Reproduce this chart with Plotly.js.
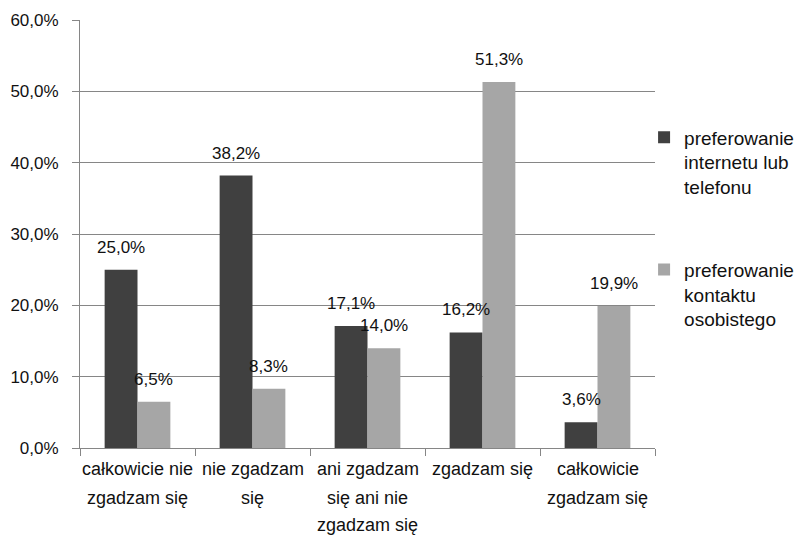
<!DOCTYPE html>
<html>
<head>
<meta charset="utf-8">
<script src="https://cdn.plot.ly/plotly-3.0.1.min.js"></script>
<style>html,body{margin:0;padding:0;background:#fff;}#chart{width:798px;height:535px;}</style>
</head>
<body>
<div id="chart"></div>
<script>
const categories = ["cat1", "cat2", "cat3", "cat4", "cat5"];
const categoryLines = [
  ["całkowicie nie", "zgadzam się"],
  ["nie zgadzam", "się"],
  ["ani zgadzam", "się ani nie", "zgadzam się"],
  ["zgadzam się"],
  ["całkowicie", "zgadzam się"]
];
const seriesNames = ["preferowanie<br>internetu lub<br>telefonu", "preferowanie<br>kontaktu<br>osobistego"];
const seriesInternet = [25.0, 38.2, 17.1, 16.2, 3.6];
const seriesPersonal = [6.5, 8.3, 14.0, 51.3, 19.9];
const yTickVals = [0, 10, 20, 30, 40, 50, 60];

const FONT = "Liberation Sans, Arial, sans-serif";
const fmt = v => v.toFixed(1).replace('.', ',') + '%';

const traces = [
  {type: 'bar', x: categories, y: seriesInternet, name: seriesNames[0], legendgroup: 'a',
   marker: {color: '#404040'}, hoverinfo: 'skip'},
  {type: 'bar', x: categories, y: seriesPersonal, name: seriesNames[1], legendgroup: 'b',
   marker: {color: '#a6a6a6'}, hoverinfo: 'skip'}
];

const gap = 1.5 / 3.5;
const off = (1 - gap) / 4;
const annotations = [];
[seriesInternet, seriesPersonal].forEach((s, si) => {
  s.forEach((v, i) => {
    annotations.push({xref: 'x', yref: 'y', x: i + (si === 0 ? -off : off), y: v,
      text: fmt(v), showarrow: false, yanchor: 'bottom', yshift: 11,
      font: {family: FONT, size: 17, color: '#111'}});
  });
});
const lineShifts = [-21, -50, -77];
categoryLines.forEach((lines, i) => {
  lines.forEach((t, li) => {
    annotations.push({xref: 'x', yref: 'paper', x: i, y: 0, text: t, showarrow: false,
      yanchor: 'middle', yshift: lineShifts[li],
      font: {family: FONT, size: 18, color: '#111'}});
  });
});

const layout = {
  width: 798, height: 535,
  margin: {l: 80, r: 143, t: 20, b: 87, autoexpand: false},
  paper_bgcolor: '#fff', plot_bgcolor: '#fff',
  separators: ', ',
  barmode: 'group', bargap: gap, bargroupgap: 0,
  font: {family: FONT, size: 17, color: '#111'},
  showlegend: true,
  legend: {x: 0.981, xanchor: 'left', y: 0.77, yanchor: 'top', valign: 'top',
    font: {family: FONT, size: 19, color: '#111'}, tracegroupgap: 55, traceorder: 'grouped',
    bgcolor: 'rgba(0,0,0,0)'},
  xaxis: {type: 'category', showticklabels: false, ticks: 'outside', tickson: 'boundaries',
    ticklen: 7, tickcolor: '#868686', showline: true, linecolor: '#868686', showgrid: false,
    zeroline: false, range: [-0.5, 4.5], fixedrange: true},
  yaxis: {range: [0, 60], tickvals: yTickVals, ticktext: yTickVals.map(fmt),
    ticks: 'outside', ticklen: 7, tickcolor: '#868686', showline: true, linecolor: '#868686',
    showgrid: true, gridcolor: '#868686', gridwidth: 1, zeroline: false,
    ticklabelstandoff: 10, tickfont: {family: FONT, size: 17, color: '#111'}, fixedrange: true},
  annotations: annotations
};

Plotly.newPlot('chart', traces, layout, {displayModeBar: false, staticPlot: true});
</script>
</body>
</html>
